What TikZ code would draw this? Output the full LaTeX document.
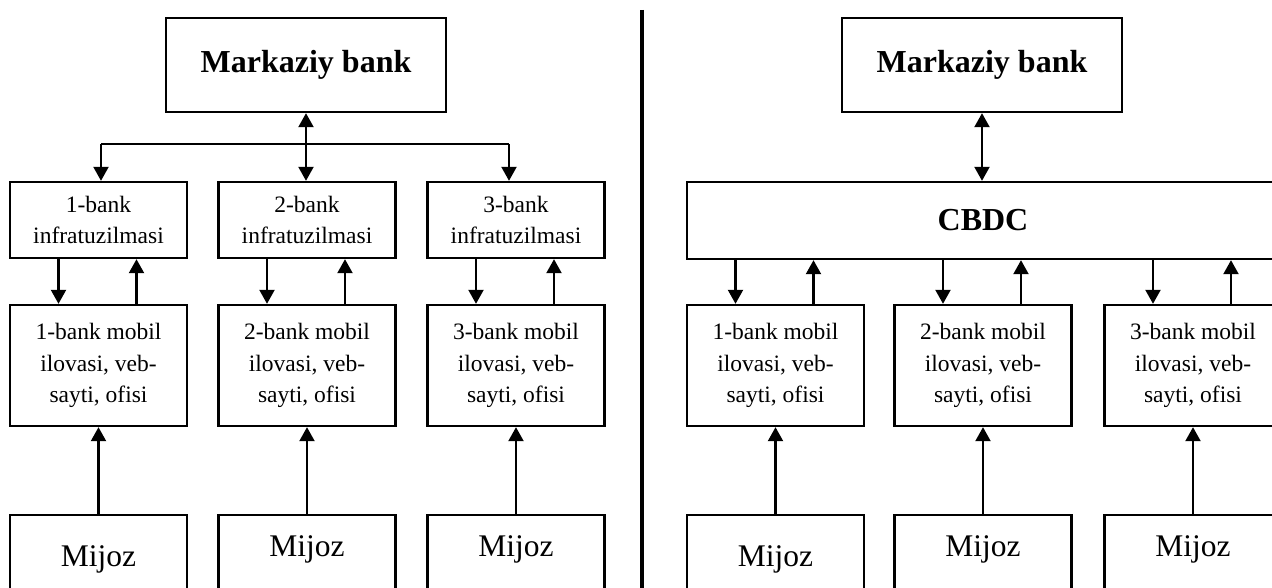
\documentclass[tikz,border=0pt]{standalone}
\usepackage{fontspec}
\setmainfont{Liberation Serif}
\usetikzlibrary{arrows.meta}

\tikzstyle{topbox} = [rectangle, draw=black, line width=2.4pt, minimum width=280pt, minimum height=94pt, inner sep=0pt, font=\fontsize{32}{38}\selectfont\bfseries]
\tikzstyle{infra} = [rectangle, draw=black, line width=2.4pt, minimum width=177pt, minimum height=76pt, inner sep=0pt, align=center, font=\fontsize{23.5}{31.5}\selectfont]
\tikzstyle{mobil} = [infra, minimum height=121pt]
\tikzstyle{cbdcbox} = [topbox, minimum width=592pt, minimum height=77pt]
\tikzstyle{mijoz} = [rectangle, draw=black, line width=2.4pt, minimum width=177pt, minimum height=100pt, inner sep=0pt, anchor=north, text height=22pt, text depth=39pt, font=\fontsize{31.5}{38}\selectfont]
\tikzstyle{arrow} = [line width=2.2pt, -{Triangle[length=14pt,width=15pt]}]
\tikzstyle{darrow} = [line width=2.2pt, {Triangle[length=14pt,width=15pt]}-{Triangle[length=14pt,width=15pt]}]

\begin{document}
\begin{tikzpicture}[x=1pt,y=-1pt]
\useasboundingbox (0,0) rectangle (1272,588);
\clip (0,0) rectangle (1272,588);

% Left scheme
\node (mb1) [topbox] at (306,65) {Markaziy bank};
\node (inf1) [infra] at (98.5,220) {1-bank\\infratuzilmasi};
\node (inf2) [infra] at (307,220) {2-bank\\infratuzilmasi};
\node (inf3) [infra] at (516,220) {3-bank\\infratuzilmasi};
\node (mob1) [mobil] at (98.5,365.5) {1-bank mobil\\ilovasi, veb-\\sayti, ofisi};
\node (mob2) [mobil] at (307,365.5) {2-bank mobil\\ilovasi, veb-\\sayti, ofisi};
\node (mob3) [mobil] at (516,365.5) {3-bank mobil\\ilovasi, veb-\\sayti, ofisi};
\node (mj1) [mijoz, text depth=19pt] at (98.5,514) {Mijoz};
\node (mj2) [mijoz] at (307,514) {Mijoz};
\node (mj3) [mijoz] at (516,514) {Mijoz};

\coordinate (hl) at (101,144);
\coordinate (hr) at (509,144);
\draw [line width=1.3pt] (hl) -- (hr);
\draw [arrow] (hl) -- (hl |- inf1.north);
\draw [arrow] (hr) -- (hr |- inf3.north);
\draw [darrow] (mb1.south) -- (mb1.south |- inf2.north);

\draw [arrow] ([xshift=-40pt]inf1.south) -- ([xshift=-40pt]mob1.north);
\draw [arrow] ([xshift=38pt]mob1.north) -- ([xshift=38pt]inf1.south);
\draw [arrow] ([xshift=-40pt]inf2.south) -- ([xshift=-40pt]mob2.north);
\draw [arrow] ([xshift=38pt]mob2.north) -- ([xshift=38pt]inf2.south);
\draw [arrow] ([xshift=-40pt]inf3.south) -- ([xshift=-40pt]mob3.north);
\draw [arrow] ([xshift=38pt]mob3.north) -- ([xshift=38pt]inf3.south);

\draw [arrow] (mj1.north) -- (mob1.south);
\draw [arrow] (mj2.north) -- (mob2.south);
\draw [arrow] (mj3.north) -- (mob3.south);

% divider
\draw [line width=4pt] (642,10) -- (642,600);

% Right scheme
\node (mb2) [topbox] at (982,65) {Markaziy bank};
\node (cbdc) [cbdcbox] at (983,220.5) {CBDC};
\node (rmob1) [mobil] at (775.5,365.5) {1-bank mobil\\ilovasi, veb-\\sayti, ofisi};
\node (rmob2) [mobil] at (983,365.5) {2-bank mobil\\ilovasi, veb-\\sayti, ofisi};
\node (rmob3) [mobil] at (1193,365.5) {3-bank mobil\\ilovasi, veb-\\sayti, ofisi};
\node (rmj1) [mijoz, text depth=19pt] at (775.5,514) {Mijoz};
\node (rmj2) [mijoz] at (983,514) {Mijoz};
\node (rmj3) [mijoz] at (1193,514) {Mijoz};

\draw [darrow] (mb2.south) -- (mb2.south |- cbdc.north);

\draw [arrow] ([xshift=-40pt]rmob1.north |- cbdc.south) -- ([xshift=-40pt]rmob1.north);
\draw [arrow] ([xshift=38pt]rmob1.north) -- ([xshift=38pt]rmob1.north |- cbdc.south);
\draw [arrow] ([xshift=-40pt]rmob2.north |- cbdc.south) -- ([xshift=-40pt]rmob2.north);
\draw [arrow] ([xshift=38pt]rmob2.north) -- ([xshift=38pt]rmob2.north |- cbdc.south);
\draw [arrow] ([xshift=-40pt]rmob3.north |- cbdc.south) -- ([xshift=-40pt]rmob3.north);
\draw [arrow] ([xshift=38pt]rmob3.north) -- ([xshift=38pt]rmob3.north |- cbdc.south);

\draw [arrow] (rmj1.north) -- (rmob1.south);
\draw [arrow] (rmj2.north) -- (rmob2.south);
\draw [arrow] (rmj3.north) -- (rmob3.south);
\end{tikzpicture}
\end{document}
